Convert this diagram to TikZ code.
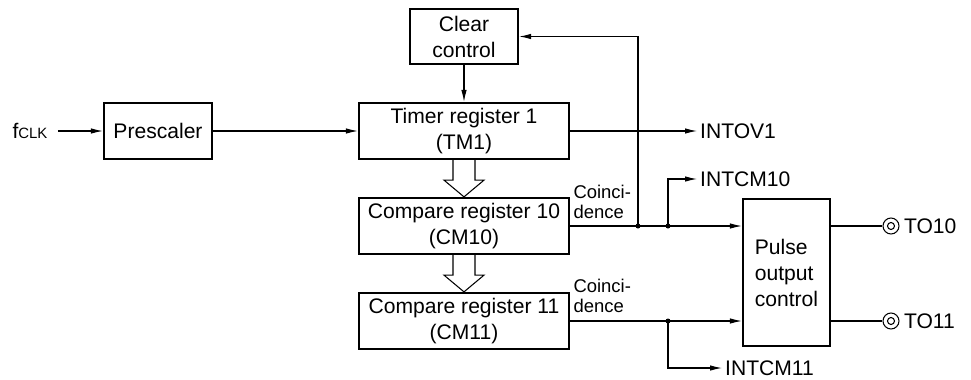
\documentclass[tikz,border=0pt]{standalone}
\usepackage{fontspec}
\setmainfont{Liberation Sans}
\usetikzlibrary{arrows.meta,positioning,calc}

\begin{document}
\begin{tikzpicture}[x=0.02cm,y=-0.02cm,line width=0.6pt,
        font=\fontsize{12}{14.8}\selectfont,
        >={Latex[length=2.4mm,width=1.1mm]},
        block/.style={rectangle,draw,line width=1.3pt,align=center,inner sep=0pt},
        sig/.style={anchor=west,inner sep=1.5pt},
        coin/.style={anchor=west,align=left,inner sep=0pt,font=\fontsize{10.5}{11.5}\selectfont},
        pin/.style={circle,draw,minimum size=0.32cm,inner sep=0pt}]
        \useasboundingbox (0,0) rectangle (971,379);

        % Blocks
        \node[block,minimum width=2.16cm,minimum height=1.12cm] (pre) at (158,131) {Prescaler};
        \node[block,minimum width=2.16cm,minimum height=1.1cm] (clear) at (464,36.5) {Clear\\control};
        \node[block,minimum width=4.2cm,minimum height=1.12cm] (tm1) at (464,131) {Timer register 1\\(TM1)};
        \node[block,minimum width=4.2cm,minimum height=1.12cm] (cm10) at (464,226) {Compare register 10\\(CM10)};
        \node[block,minimum width=4.2cm,minimum height=1.12cm] (cm11) at (464,321) {Compare register 11\\(CM11)};
        \node[block,align=left,minimum width=1.74cm,minimum height=2.94cm] (pulse) at (786.5,272.5) {Pulse\\output\\control};

        % Signal names
        \node[anchor=west,inner sep=0pt] (fclk) at (12,131) {f{\fontsize{8.5}{10}\selectfont CLK}};
        \node[sig] (intov1) at (697,131) {INTOV1};
        \node[sig] (intcm10) at (697,179) {INTCM10};
        \node[sig] (intcm11) at (722,368) {INTCM11};
        \node[coin] (coin10) at (573,202) {Coinci-\\dence};
        \node[coin] (coin11) at (573,296) {Coinci-\\dence};

        % Output pins
        \node[pin] (to10) at (891,226) {};
        \node[pin] (to11) at (891,321) {};
        \node[right=0.08cm of to10,inner sep=0pt] (to10lbl) {TO10};
        \node[right=0.08cm of to11,inner sep=0pt] (to11lbl) {TO11};
        \draw (to10.center) circle (3.5);
        \draw (to11.center) circle (3.5);

        % Branch points
        \coordinate (fb) at (638,226);
        \coordinate (br10) at (668,226);
        \coordinate (br11) at (668,321);

        % Connections
        \draw[->,shorten <=0.2cm] (fclk) -- (pre);
        \draw[->] (pre) -- (tm1);
        \draw[->] (clear) -- (tm1);
        \draw[->] (tm1) -- (intov1);
        \draw[->] (cm10) -- (cm10 -| pulse.west);
        \draw[->] (cm11) -- (cm11 -| pulse.west);
        \draw[->] (fb) |- (clear);
        \draw[->] (br10) |- (intcm10);
        \draw[->] (br11) |- (intcm11);
        \draw (pulse.east |- cm10) -- (to10);
        \draw (pulse.east |- cm11) -- (to11);
        \foreach \p in {fb,br10,br11}
            \fill (\p) circle (2.5);

        % Hollow transfer arrows
        \foreach \a/\b in {tm1/cm10,cm10/cm11}
            \draw ($(\a.south)+(-11,0)$) -- ++(0,20) -- ++(-9,0) -- (\b.north)
                -- ($(\a.south)+(20,20)$) -- ++(-9,0) -- ++(0,-20);
    \end{tikzpicture}
\end{document}
